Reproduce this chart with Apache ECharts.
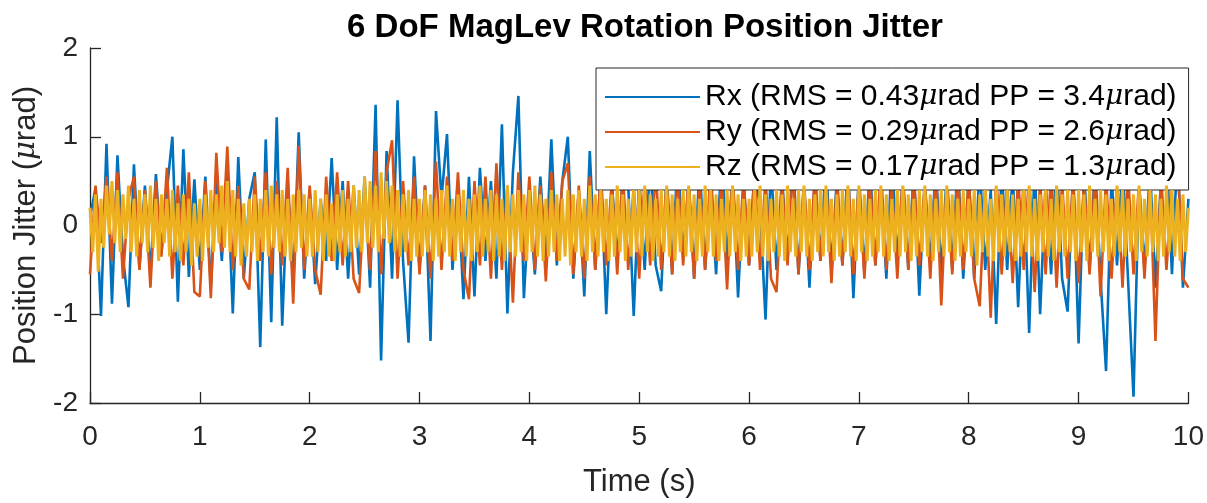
<!DOCTYPE html>
<html>
<head>
<meta charset="utf-8">
<script src="https://cdn.jsdelivr.net/npm/echarts@6/dist/echarts.min.js"></script>
<style>
  html, body { margin: 0; padding: 0; background: #fff; }
  #chart { width: 1207px; height: 503px; }
</style>
</head>
<body>
<div id="chart"></div>
<script>
// sample steps of the records (s)
const stepRxRy = 0.05;
const stepRz = 0.025;

const seriesNames = ['Rx', 'Ry', 'Rz'];
const rmsValues = ['0.43', '0.29', '0.17'];
const ppValues = ['3.4', '2.6', '1.3'];
const xTicks = [0, 1, 2, 3, 4, 5, 6, 7, 8, 9, 10];
const yTicks = [-2, -1, 0, 1, 2];

// values, one row per second
const rx = [
  0.10, 0.42, -1.02, 0.92, -0.88, 0.79, -0.35, -0.92, 0.69, -0.48, 0.45, -0.55, 0.58, -0.32, 0.40, 1.00, -0.86, 0.86, -0.58, 0.52,
  -0.50, 0.55, -0.70, 0.50, -0.40, 0.60, -0.99, 0.77, -0.60, 0.30, 0.60, -1.37, 0.97, -1.09, 1.22, -1.13, 0.50, -0.70, 1.05, -0.60,
  0.40, -0.66, 0.30, -0.40, 0.76, -0.50, 0.50, -0.60, 0.45, -0.55, 0.55, -0.70, 1.36, -1.52, 0.84, -0.60, 1.41, -0.40, -1.32, 0.78,
  -0.50, 0.45, -1.30, 1.29, 0.30, 1.03, -0.50, 0.40, -0.83, 0.55, -0.80, 0.65, -0.40, 0.50, -0.60, 1.14, -0.99, 0.60, 1.46, -0.82,
  0.30, -0.55, 0.55, -0.40, 0.97, -0.45, 0.50, 1.00, -0.60, 0.40, -0.80, 0.84, -0.50, 0.60, -1.00, 0.50, -0.40, 0.55, 0.45, -1.02,
  0.55, -0.50, 0.75, -0.45, -0.74, 0.60, -0.55, 0.80, -0.35, 0.50, -0.60, 0.70, -0.50, 0.45, -0.55, 0.85, -0.40, 0.60, -0.81, 0.50,
  -0.45, 0.65, 0.20, -1.06, 0.70, -0.50, 0.55, -0.40, 0.80, -0.55, 0.50, -0.70, 0.60, -0.40, 0.75, -0.50, 0.55, -0.45, 0.70, -0.82,
  0.60, -0.55, 0.70, -0.45, 0.50, -0.60, 0.80, -0.40, 0.55, -0.50, 0.65, -0.79, 0.50, -0.45, 0.70, -0.55, 0.60, -0.50, 0.75, -0.60,
  0.55, -0.60, 0.70, -0.50, 0.40, -1.11, 0.65, -0.50, 0.60, -0.92, 0.55, -1.21, 0.70, -1.00, 0.50, -0.55, 0.80, -0.60, -0.97, 0.60,
  -1.33, 0.60, -0.50, 0.70, -0.60, -1.64, 0.55, -0.45, 0.70, -0.60, -1.93, 0.50, -0.50, 0.65, -0.70, 0.50, 0.84, -0.55, 0.84, -0.70,
  0.30
];

const ry = [
  -0.55, 0.45, -0.20, 0.55, -0.40, 0.60, -0.60, 0.30, 0.55, -0.50, 0.40, -0.70, 0.50, -0.35, 0.65, -0.60, 0.45, -0.45, 0.60, -0.75,
  -0.80, 0.50, -0.82, 0.82, -0.30, 0.89, -0.50, 0.45, -0.60, -0.72, 0.55, -0.40, 0.60, -0.55, 0.50, -0.45, 0.65, -0.88, 0.90, -0.50,
  0.45, -0.50, -0.78, 0.55, -0.40, 0.60, -0.45, 0.50, -0.60, -0.76, 0.40, -0.50, 0.84, -0.55, 0.60, 0.96, -0.60, 0.50, -0.45, 0.55,
  -0.55, 0.45, -0.60, 0.72, -0.50, 0.55, -0.40, 0.60, -0.50, -0.83, 0.50, -0.45, 0.55, -0.60, 0.70, -0.50, 0.45, -0.87, 0.60, -0.40,
  0.55, -0.50, 0.45, -0.63, 0.60, -0.40, 0.50, 0.70, -0.55, 0.45, -0.60, 0.55, -0.50, 0.60, -0.45, 0.50, -0.55, 0.60, -0.50, 0.45,
  -0.60, 0.55, -0.45, 0.65, -0.50, 0.50, -0.55, 0.60, -0.45, 0.55, -0.60, 0.50, -0.50, 0.65, -0.40, 0.55, -0.72, 0.60, -0.50, 0.55,
  -0.45, 0.60, -0.50, 0.55, -0.60, -0.75, 0.50, -0.45, 0.65, -0.55, 0.50, -0.50, 0.60, -0.40, 0.55, -0.65, 0.50, -0.45, 0.60, -0.55,
  0.50, -0.60, 0.55, -0.45, 0.65, -0.50, 0.45, -0.60, 0.60, -0.50, 0.55, -0.45, 0.50, -0.60, 0.65, -0.90, 0.50, -0.55, 0.60, -0.50,
  0.55, -0.60, -0.91, 0.50, -1.04, 0.60, -0.55, 0.50, -0.65, 0.55, -0.50, 0.60, -0.75, 0.50, -0.55, 0.60, -0.70, 0.50, -0.60, 0.55,
  -0.65, 0.50, -0.55, 0.60, -0.80, 0.55, -0.60, 0.50, -0.70, 0.60, -0.55, 0.50, -0.60, 0.55, -1.30, 0.60, -0.50, 0.45, 0.78, -0.60,
  -0.70
];

// Rz is sampled twice as finely, two rows per second
const rz = [
  0.20, -0.30, 0.35, -0.52, 0.30, -0.25, 0.45, -0.10, 0.50, -0.20, 0.40, -0.30, 0.35, -0.15, 0.45, -0.30, 0.30, -0.35, 0.40, -0.20,
  0.35, -0.30, 0.45, -0.25, 0.30, -0.40, 0.35, -0.20, 0.30, -0.35, 0.40, -0.30, 0.25, -0.40, 0.35, -0.30, 0.30, -0.45, 0.25, -0.35,
  0.30, -0.40, 0.35, -0.25, 0.40, -0.30, 0.35, -0.20, 0.45, -0.25, 0.50, -0.30, 0.40, -0.35, 0.30, -0.45, 0.25, -0.35, 0.30, -0.30,
  0.35, -0.40, 0.30, -0.30, 0.40, -0.35, 0.45, -0.25, 0.35, -0.30, 0.40, -0.35, 0.30, -0.40, 0.35, -0.30, 0.40, -0.25, 0.35, -0.35,
  0.30, -0.35, 0.40, -0.30, 0.30, -0.40, 0.35, -0.35, 0.25, -0.40, 0.35, -0.30, 0.40, -0.35, 0.30, -0.30, 0.45, -0.25, 0.40, -0.30,
  0.55, -0.20, 0.50, -0.25, 0.45, -0.30, 0.60, -0.15, 0.50, -0.20, 0.45, -0.30, 0.40, -0.35, 0.35, -0.30, 0.40, -0.40, 0.30, -0.35,
  0.30, -0.35, 0.40, -0.30, 0.35, -0.40, 0.30, -0.35, 0.40, -0.30, 0.45, -0.35, 0.30, -0.40, 0.35, -0.30, 0.40, -0.35, 0.30, -0.40,
  0.35, -0.30, 0.45, -0.35, 0.30, -0.30, 0.40, -0.40, 0.35, -0.35, 0.30, -0.40, 0.45, -0.30, 0.35, -0.35, 0.40, -0.30, 0.35, -0.40,
  0.40, -0.30, 0.45, -0.35, 0.35, -0.40, 0.30, -0.35, 0.40, -0.30, 0.35, -0.40, 0.30, -0.35, 0.40, -0.45, 0.35, -0.30, 0.40, -0.35,
  0.30, -0.40, 0.45, -0.30, 0.35, -0.35, 0.40, -0.30, 0.30, -0.40, 0.35, -0.35, 0.45, -0.30, 0.35, -0.40, 0.30, -0.35, 0.40, -0.30,
  0.40, -0.35, 0.45, -0.30, 0.35, -0.40, 0.30, -0.35, 0.40, -0.30, 0.45, -0.35, 0.35, -0.40, 0.30, -0.30, 0.40, -0.35, 0.45, -0.30,
  0.35, -0.40, 0.30, -0.35, 0.45, -0.30, 0.40, -0.35, 0.35, -0.40, 0.30, -0.30, 0.40, -0.35, 0.45, -0.30, 0.35, -0.40, 0.30, -0.35,
  0.30, -0.35, 0.40, -0.30, 0.45, -0.35, 0.35, -0.40, 0.30, -0.30, 0.40, -0.35, 0.35, -0.40, 0.45, -0.30, 0.30, -0.35, 0.40, -0.30,
  0.45, -0.35, 0.30, -0.40, 0.35, -0.30, 0.40, -0.35, 0.45, -0.30, 0.30, -0.40, 0.35, -0.35, 0.40, -0.30, 0.45, -0.35, 0.30, -0.40,
  0.45, -0.30, 0.35, -0.40, 0.30, -0.35, 0.40, -0.30, 0.45, -0.35, 0.35, -0.40, 0.30, -0.30, 0.40, -0.35, 0.45, -0.30, 0.35, -0.40,
  0.30, -0.35, 0.40, -0.30, 0.45, -0.35, 0.35, -0.40, 0.30, -0.30, 0.40, -0.35, 0.45, -0.30, 0.35, -0.40, 0.30, -0.35, 0.40, -0.30,
  0.30, -0.35, 0.40, -0.45, 0.35, -0.30, 0.40, -0.35, 0.30, -0.40, 0.45, -0.30, 0.35, -0.35, 0.40, -0.30, 0.35, -0.40, 0.30, -0.35,
  0.40, -0.30, 0.45, -0.35, 0.30, -0.40, 0.35, -0.30, 0.40, -0.35, 0.30, -0.40, 0.45, -0.30, 0.35, -0.35, 0.40, -0.30, 0.35, -0.40,
  0.40, -0.30, 0.35, -0.40, 0.45, -0.30, 0.30, -0.35, 0.40, -0.30, 0.35, -0.40, 0.30, -0.35, 0.45, -0.30, 0.40, -0.35, 0.30, -0.30,
  0.35, -0.40, 0.45, -0.30, 0.30, -0.35, 0.40, -0.30, 0.35, -0.40, 0.30, -0.35, 0.45, -0.30, 0.40, -0.35, 0.30, -0.40, 0.35, -0.30,
  0.20
];

const colors = ['#0072BD', '#D95319', '#EDB120'];
const steps = [stepRxRy, stepRxRy, stepRz];
const widths = [2.6, 2.6, 3];
const font = "'Liberation Sans', Arial, Helvetica, sans-serif";
const muFont = "'DejaVu Serif', 'Liberation Serif', serif";
const axisColor = '#262626';

const toPairs = (arr, step) => arr.map((v, i) => [+(i * step).toFixed(3), v]);

const chart = echarts.init(document.getElementById('chart'));

const legendText = {};
seriesNames.forEach((n, i) => {
  legendText[n] = '{a|' + n + ' (RMS = ' + rmsValues[i] + '}{m|μ}{a|rad PP = ' + ppValues[i] + '}{m|μ}{a|rad)}';
});

const option = {
  backgroundColor: '#fff',
  animation: false,
  title: {
    text: '6 DoF MagLev Rotation Position Jitter',
    left: 640,
    textAlign: 'center',
    top: 6,
    textStyle: { fontFamily: font, fontWeight: 'bold', fontSize: 33, color: '#000' }
  },
  grid: { left: 90, right: 17, top: 48, bottom: 95 },
  legend: {
    orient: 'vertical',
    left: 596,
    top: 68,
    padding: [14, 12, 8, 9],
    itemGap: 5,
    itemWidth: 95,
    itemHeight: 2,
    icon: 'rect',
    backgroundColor: '#fff',
    borderColor: axisColor,
    borderWidth: 1,
    borderRadius: 0,
    data: seriesNames,
    formatter: (name) => legendText[name],
    textStyle: {
      rich: {
        a: { fontFamily: font, fontSize: 30, color: '#000', lineHeight: 30 },
        m: { fontFamily: muFont, fontStyle: 'italic', fontSize: 28, color: '#000', lineHeight: 30 }
      }
    }
  },
  xAxis: {
    type: 'value',
    min: 0,
    max: 10,
    interval: 1,
    name: 'Time (s)',
    nameLocation: 'middle',
    nameGap: 64,
    nameTextStyle: { fontFamily: font, fontSize: 31, color: axisColor },
    axisLine: { onZero: false, lineStyle: { color: axisColor, width: 1.3 } },
    axisTick: { inside: true, length: 11, lineStyle: { color: axisColor, width: 1.3 } },
    axisLabel: {
      margin: 20, fontFamily: font, fontSize: 28, color: axisColor,
      formatter: (v) => xTicks.includes(v) ? String(v) : ''
    },
    splitLine: { show: false }
  },
  yAxis: {
    type: 'value',
    min: -2,
    max: 2,
    interval: 1,
    name: '{a|Position Jitter (}{m|μ}{a|rad)}',
    nameLocation: 'middle',
    nameGap: 46,
    nameRotate: 90,
    nameTextStyle: {
      rich: {
        a: { fontFamily: font, fontSize: 31, color: axisColor },
        m: { fontFamily: muFont, fontStyle: 'italic', fontSize: 29, color: axisColor }
      }
    },
    axisLine: { show: true, onZero: false, lineStyle: { color: axisColor, width: 1.3 } },
    axisTick: { show: true, inside: true, length: 11, lineStyle: { color: axisColor, width: 1.3 } },
    axisLabel: {
      margin: 12, fontFamily: font, fontSize: 28, color: axisColor,
      formatter: (v) => yTicks.includes(v) ? String(v) : ''
    },
    splitLine: { show: false }
  },
  series: [rx, ry, rz].map((d, i) => ({
    name: seriesNames[i],
    type: 'line',
    data: toPairs(d, steps[i]),
    showSymbol: false,
    symbol: 'none',
    lineStyle: { color: colors[i], width: widths[i] },
    itemStyle: { color: colors[i] },
    z: 2 + i
  }))
};

chart.setOption(option);
</script>
</body>
</html>
